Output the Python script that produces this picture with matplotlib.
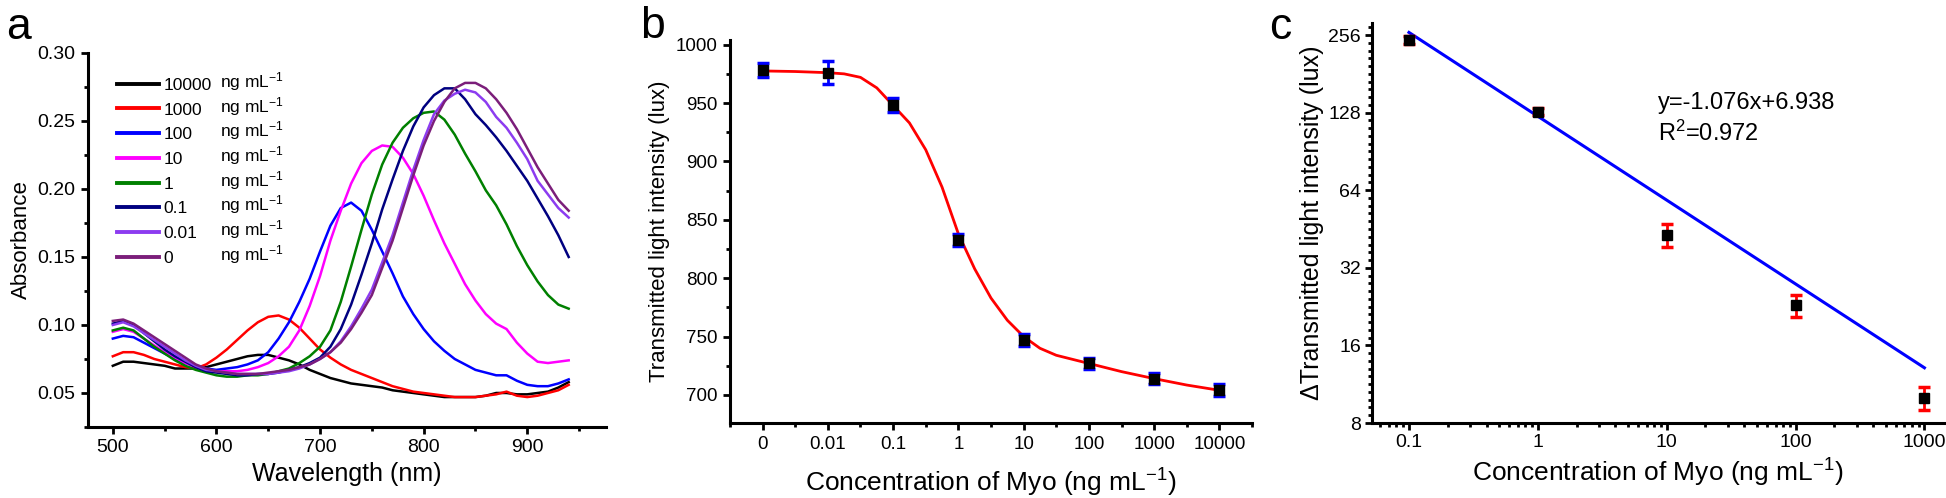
import numpy as np
import matplotlib.pyplot as plt
from matplotlib.ticker import MultipleLocator, FixedLocator, LogLocator, NullFormatter, FuncFormatter

plt.rcParams['font.family'] = ['Liberation Sans', 'DejaVu Sans']
plt.rcParams['mathtext.fontset'] = 'custom'
plt.rcParams['mathtext.rm'] = 'Liberation Sans'
plt.rcParams['mathtext.it'] = 'Liberation Sans:italic'
plt.rcParams['mathtext.bf'] = 'Liberation Sans:bold'

# ---- panel a: absorbance spectra (500-940 nm, every 10 nm)
wavelength = np.arange(500, 941, 10)
abs_10000 = [0.070, 0.073, 0.073, 0.072, 0.071, 0.070, 0.068, 0.068, 0.068, 0.069, 0.071, 0.073, 0.075, 0.077, 0.078,
             0.078, 0.076, 0.074, 0.071, 0.067, 0.064, 0.061, 0.059, 0.057, 0.056, 0.055, 0.054, 0.052, 0.051, 0.050,
             0.049, 0.048, 0.047, 0.047, 0.047, 0.047, 0.048, 0.050, 0.050, 0.049, 0.049, 0.050, 0.051, 0.054, 0.058]
abs_1000 = [0.077, 0.080, 0.080, 0.078, 0.075, 0.073, 0.071, 0.069, 0.068, 0.071, 0.076, 0.082, 0.089, 0.096, 0.102,
            0.106, 0.107, 0.104, 0.098, 0.090, 0.082, 0.076, 0.071, 0.067, 0.064, 0.061, 0.058, 0.055, 0.053, 0.051,
            0.050, 0.049, 0.048, 0.047, 0.047, 0.047, 0.048, 0.049, 0.051, 0.048, 0.047, 0.048, 0.050, 0.052, 0.056]
abs_100 = [0.090, 0.092, 0.091, 0.087, 0.083, 0.079, 0.075, 0.072, 0.070, 0.068, 0.067, 0.068, 0.069, 0.071, 0.074,
           0.080, 0.090, 0.102, 0.117, 0.134, 0.154, 0.173, 0.186, 0.190, 0.184, 0.170, 0.154, 0.138, 0.121, 0.108,
           0.097, 0.088, 0.081, 0.075, 0.071, 0.067, 0.065, 0.063, 0.063, 0.059, 0.056, 0.055, 0.055, 0.057, 0.060]
abs_10 = [0.095, 0.097, 0.095, 0.090, 0.085, 0.080, 0.076, 0.072, 0.069, 0.067, 0.066, 0.066, 0.066, 0.067, 0.069,
          0.072, 0.077, 0.084, 0.096, 0.114, 0.136, 0.162, 0.184, 0.204, 0.219, 0.228, 0.232, 0.231, 0.223, 0.211,
          0.195, 0.177, 0.160, 0.145, 0.130, 0.118, 0.108, 0.101, 0.097, 0.087, 0.079, 0.073, 0.072, 0.073, 0.074]
abs_1 = [0.096, 0.098, 0.096, 0.090, 0.084, 0.079, 0.074, 0.070, 0.067, 0.065, 0.063, 0.062, 0.062, 0.063, 0.063,
         0.064, 0.066, 0.068, 0.072, 0.077, 0.084, 0.096, 0.117, 0.143, 0.170, 0.196, 0.218, 0.234, 0.245, 0.252,
         0.256, 0.257, 0.251, 0.240, 0.226, 0.213, 0.199, 0.188, 0.174, 0.158, 0.144, 0.132, 0.122, 0.115, 0.112]
abs_01 = [0.101, 0.103, 0.100, 0.094, 0.088, 0.082, 0.077, 0.073, 0.069, 0.066, 0.065, 0.064, 0.063, 0.063, 0.064,
          0.064, 0.065, 0.067, 0.069, 0.072, 0.076, 0.084, 0.097, 0.115, 0.137, 0.160, 0.185, 0.207, 0.228, 0.246,
          0.260, 0.269, 0.274, 0.274, 0.266, 0.255, 0.247, 0.238, 0.228, 0.217, 0.206, 0.193, 0.180, 0.166, 0.150]
abs_001 = [0.100, 0.102, 0.099, 0.094, 0.089, 0.084, 0.079, 0.074, 0.070, 0.067, 0.066, 0.065, 0.064, 0.064, 0.064,
           0.064, 0.065, 0.066, 0.068, 0.071, 0.075, 0.080, 0.088, 0.099, 0.112, 0.126, 0.146, 0.166, 0.190, 0.214,
           0.236, 0.255, 0.265, 0.270, 0.273, 0.271, 0.264, 0.253, 0.245, 0.234, 0.222, 0.206, 0.196, 0.186, 0.179]
abs_0 = [0.103, 0.104, 0.101, 0.096, 0.091, 0.086, 0.081, 0.076, 0.071, 0.068, 0.066, 0.065, 0.064, 0.064, 0.064,
         0.065, 0.066, 0.067, 0.069, 0.071, 0.075, 0.080, 0.087, 0.097, 0.109, 0.122, 0.142, 0.162, 0.186, 0.210,
         0.232, 0.250, 0.264, 0.274, 0.278, 0.278, 0.274, 0.266, 0.256, 0.244, 0.230, 0.216, 0.204, 0.192, 0.184]
spectra = [abs_10000, abs_1000, abs_100, abs_10, abs_1, abs_01, abs_001, abs_0]
spectra_labels = ['10000', '1000', '100', '10', '1', '0.1', '0.01', '0']
spectra_colors = ['black', '#ff0000', '#0000ff', '#ff00ff', '#008000', '#000080', '#8c3cf0', '#7b1e7a']

# ---- panel b: transmitted light vs concentration
conc_b_labels = ['0', '0.01', '0.1', '1', '10', '100', '1000', '10000']
trans_b = [978, 976, 948, 833, 747, 727, 714, 704]
trans_b_err = [6, 10, 6, 5, 5, 5, 5, 5]
# fitted curve (position on category axis, lux)
fit_b_pos = [0, 0.5, 1, 1.25, 1.5, 1.75, 2, 2.25, 2.5, 2.75, 3, 3.25, 3.5, 3.75, 4, 4.25, 4.5, 5, 5.5, 6, 6.5, 7]
fit_b_val = [977.5, 977, 976, 975, 972, 963, 948, 933, 910, 878, 838, 808, 783, 764, 750, 740, 734, 727, 720, 714,
             708.5, 704]

# ---- panel c: delta transmitted light, log-log
conc_c = [0.1, 1, 10, 100, 1000]
delta_c = [245, 129, 42.9, 22.9, 10.0]
delta_c_err = [8, 4, 4.3, 2.2, 1.0]
fit_c_x = [0.1, 1000]
fit_c_y = [262, 13.1]

fig = plt.figure(figsize=(19.46, 4.98), dpi=100)
ax1 = fig.add_axes([0.0452, 0.1426, 0.2662, 0.7510])
ax2 = fig.add_axes([0.3751, 0.1506, 0.2683, 0.7691])
ax3 = fig.add_axes([0.7050, 0.1506, 0.2940, 0.8032])


def style(ax, size):
    for s in ['top', 'right']:
        ax.spines[s].set_visible(False)
    for s in ['left', 'bottom']:
        ax.spines[s].set_linewidth(2.2)
    ax.tick_params(which='major', direction='out', length=5, width=2, labelsize=size, pad=4)
    ax.tick_params(which='minor', direction='out', length=3, width=2)


# panel a
for vals, lab, col in zip(spectra, spectra_labels, spectra_colors):
    ax1.plot(wavelength, vals, color=col, lw=1.8, label=lab)
ax1.set_xlim(476, 976)
ax1.set_ylim(0.025, 0.30)
ax1.xaxis.set_major_locator(FixedLocator([500, 600, 700, 800, 900]))
ax1.xaxis.set_minor_locator(MultipleLocator(50))
ax1.yaxis.set_major_locator(MultipleLocator(0.05))
ax1.yaxis.set_minor_locator(MultipleLocator(0.025))
ax1.yaxis.set_major_formatter(FuncFormatter(lambda v, p: f'{v:.2f}'))
style(ax1, 14)
ax1.set_xlabel('Wavelength (nm)', fontsize=18, labelpad=4)
ax1.set_ylabel('Absorbance', fontsize=16, labelpad=4)
leg = ax1.legend(loc='upper left', bbox_to_anchor=(0.056, 0.934), frameon=False, fontsize=12.5,
                 handlelength=2.4, handletextpad=0.3, labelspacing=0.55, borderaxespad=0, borderpad=0)
for ln in leg.get_lines():
    ln.set_linewidth(2.8)
fig.canvas.draw()
for t in leg.get_texts():
    bb = t.get_window_extent()
    xa, ya = ax1.transAxes.inverted().transform((ax1.transAxes.transform((0.254, 0))[0], bb.y0))
    ax1.text(xa, ya, 'ng mL$^{-1}$', transform=ax1.transAxes, fontsize=12.5, va='bottom', ha='left')

# panel b
xb = np.arange(len(conc_b_labels))
ax2.plot(fit_b_pos, fit_b_val, color='#ff0000', lw=2, zorder=1)
ax2.errorbar(xb, trans_b, yerr=trans_b_err, fmt='s', color='black', ms=7, ecolor='#0000ff',
             elinewidth=2, capsize=4, capthick=2.5, zorder=3)
ax2.set_xlim(-0.5, 7.5)
ax2.set_ylim(676, 1004)
ax2.set_xticks(xb)
ax2.set_xticklabels(conc_b_labels)
ax2.xaxis.set_minor_locator(MultipleLocator(0.5))
ax2.yaxis.set_major_locator(MultipleLocator(50))
ax2.yaxis.set_minor_locator(MultipleLocator(25))
style(ax2, 13.5)
ax2.set_xlabel('Concentration of Myo (ng mL$^{-1}$)', fontsize=19, labelpad=10)
ax2.set_ylabel('Transmitted light intensity (lux)', fontsize=16, labelpad=4)

# panel c
ax3.plot(fit_c_x, fit_c_y, color='#0000ff', lw=2.2, zorder=1)
ax3.errorbar(conc_c, delta_c, yerr=delta_c_err, fmt='s', color='black', ms=7, ecolor='#ff0000',
             elinewidth=2, capsize=4, capthick=2.5, zorder=3)
ax3.set_xscale('log')
ax3.set_yscale('log', base=2)
ax3.set_xlim(0.0516, 1420)
ax3.set_ylim(8, 285)
ax3.xaxis.set_major_locator(FixedLocator(conc_c))
ax3.xaxis.set_major_formatter(FuncFormatter(lambda v, p: f'{v:g}'))
ax3.xaxis.set_minor_locator(LogLocator(base=10, subs=np.arange(2, 10)))
ax3.xaxis.set_minor_formatter(NullFormatter())
ax3.yaxis.set_major_locator(FixedLocator([8, 16, 32, 64, 128, 256]))
ax3.yaxis.set_major_formatter(FuncFormatter(lambda v, p: f'{v:g}'))
ax3.yaxis.set_minor_locator(FixedLocator(2 ** np.arange(3, 8.15, 0.1)))
ax3.yaxis.set_minor_formatter(NullFormatter())
style(ax3, 14)
ax3.tick_params(which='major', pad=3)
ax3.set_xlabel('Concentration of Myo (ng mL$^{-1}$)', fontsize=19, labelpad=4)
ax3.set_ylabel('\u0394Transmitted light intensity (lux)', fontsize=18, labelpad=3)
ax3.text(0.50, 0.80, 'y=-1.076x+6.938', transform=ax3.transAxes, fontsize=17, va='center')
ax3.text(0.50, 0.725, 'R$^{2}$=0.972', transform=ax3.transAxes, fontsize=17, va='center')

# panel letters
fig.text(0.003, 0.944, 'a', fontsize=32, va='center', ha='left')
fig.text(0.329, 0.946, 'b', fontsize=32, va='center', ha='left')
fig.text(0.652, 0.944, 'c', fontsize=32, va='center', ha='left')

fig.savefig('out.png', dpi=100)
